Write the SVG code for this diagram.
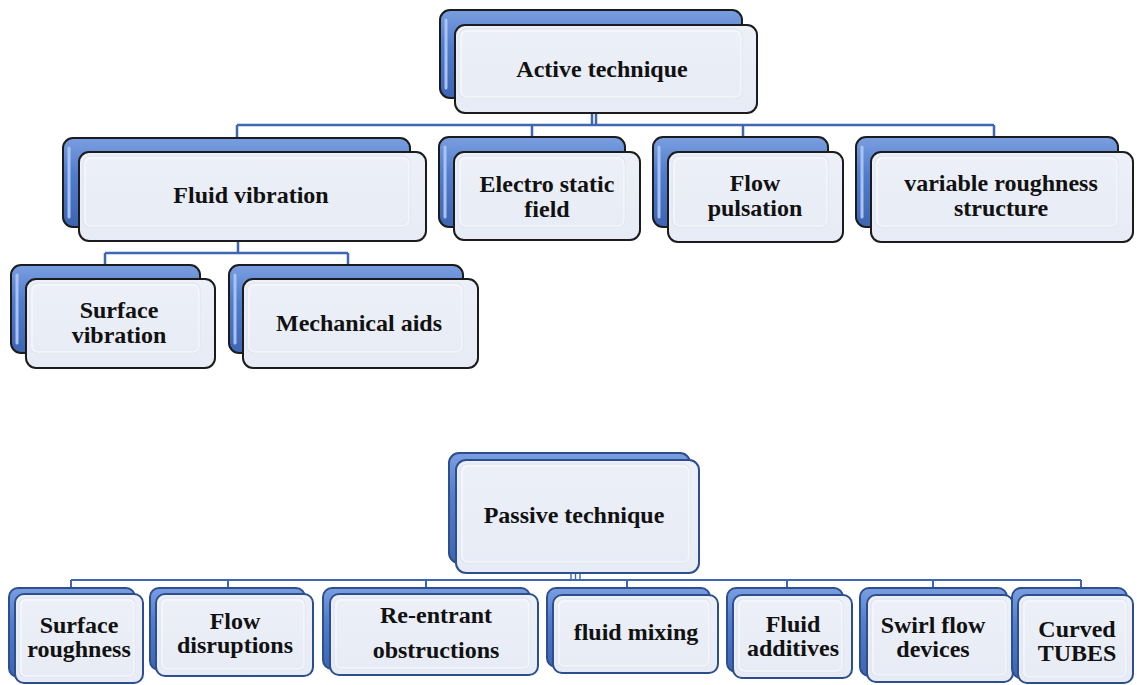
<svg xmlns="http://www.w3.org/2000/svg" width="1137" height="685" viewBox="0 0 1137 685">
<defs>
<linearGradient id="gBlue" x1="0" y1="0" x2="0" y2="1">
<stop offset="0" stop-color="#7A9EE0"/>
<stop offset="0.4" stop-color="#527DCD"/>
<stop offset="1" stop-color="#3D65B3"/>
</linearGradient>
<linearGradient id="gFront" x1="0" y1="0" x2="0" y2="1">
<stop offset="0" stop-color="#EDF0F8"/>
<stop offset="1" stop-color="#E7EBF5"/>
</linearGradient>
<style>
.back{fill:url(#gBlue);stroke:#1c1c1c;stroke-width:2}
.front{fill:url(#gFront);stroke:#1c1c1c;stroke-width:2}
.p .back,.p .front{stroke:#2D4F8E}
.hl{stroke:#A9C3F1;stroke-width:3;fill:none;stroke-linecap:round}
.bev{fill:none;stroke:#FFFFFF;stroke-width:1.5;opacity:.55}
.bev2{fill:none;stroke:#DDE3EF;stroke-width:1}
.lbl{font-family:"Liberation Serif","Times New Roman",serif;font-weight:bold;font-size:24px;fill:#111111;text-anchor:middle}
.conn{stroke:#3F67B1;stroke-width:2.5;fill:none}
.conn2{stroke:#3F67B1;stroke-width:2;fill:none}
.thin{stroke:#3F67B1;stroke-width:1.4;fill:none}
</style>
</defs>
<rect width="1137" height="685" fill="#ffffff"/>

<g id="connectors">
<path class="conn" d="M592 113V125M596 113V125M237 125H994M237 125V138M532 125V137M743 125V137M994 125V137"/>
<path class="conn" d="M238 241V253M105 253H348M105 253V265M348 253V265"/>
<path class="conn2" d="M71 580H1081M71 580V588M228 580V588M426 580V588M627 580V588M787 580V588M933 580V588M1081 580V588"/>
<path class="thin" d="M571 573V580M575.5 573V580M580 573V580"/>
</g>

<g id="active">
<rect class="back" x="440" y="10" width="302" height="88" rx="10"/>
<path class="hl" d="M446 20V88"/>
<rect class="front" x="455" y="25" width="302" height="88" rx="10"/>
<rect class="bev2" x="459" y="29" width="283" height="69" rx="7"/>
<rect class="bev" x="461" y="31" width="280" height="66" rx="6"/>
<text class="lbl" x="602" y="77">Active technique</text>
</g>

<g id="fluid-vibration">
<rect class="back" x="63" y="138" width="347" height="89" rx="10"/>
<path class="hl" d="M69 148V217"/>
<rect class="front" x="79" y="152" width="347" height="89" rx="10"/>
<rect class="bev2" x="83" y="156" width="327" height="71" rx="7"/>
<rect class="bev" x="85" y="158" width="324" height="68" rx="6"/>
<text class="lbl" x="251" y="203">Fluid vibration</text>
</g>

<g id="electro-static-field">
<rect class="back" x="439" y="137" width="186" height="90" rx="10"/>
<path class="hl" d="M445 147V217"/>
<rect class="front" x="454" y="152" width="186" height="88" rx="10"/>
<rect class="bev2" x="458" y="156" width="167" height="71" rx="7"/>
<rect class="bev" x="460" y="158" width="164" height="68" rx="6"/>
<text class="lbl" x="547" y="192">Electro static</text>
<text class="lbl" x="547" y="217">field</text>
</g>

<g id="flow-pulsation">
<rect class="back" x="653" y="137" width="175" height="90" rx="10"/>
<path class="hl" d="M659 147V217"/>
<rect class="front" x="668" y="152" width="175" height="90" rx="10"/>
<rect class="bev2" x="672" y="156" width="156" height="71" rx="7"/>
<rect class="bev" x="674" y="158" width="153" height="68" rx="6"/>
<text class="lbl" x="755" y="191">Flow</text>
<text class="lbl" x="755" y="216">pulsation</text>
</g>

<g id="variable-roughness-structure">
<rect class="back" x="856" y="137" width="262" height="90" rx="10"/>
<path class="hl" d="M862 147V217"/>
<rect class="front" x="871" y="152" width="262" height="90" rx="10"/>
<rect class="bev2" x="875" y="156" width="243" height="71" rx="7"/>
<rect class="bev" x="877" y="158" width="240" height="68" rx="6"/>
<text class="lbl" x="1001" y="191">variable roughness</text>
<text class="lbl" x="1001" y="216">structure</text>
</g>

<g id="surface-vibration">
<rect class="back" x="11" y="265" width="189" height="88" rx="10"/>
<path class="hl" d="M17 275V343"/>
<rect class="front" x="26" y="279" width="189" height="89" rx="10"/>
<rect class="bev2" x="30" y="283" width="170" height="70" rx="7"/>
<rect class="bev" x="32" y="285" width="167" height="67" rx="6"/>
<text class="lbl" x="119" y="318">Surface</text>
<text class="lbl" x="119" y="343">vibration</text>
</g>

<g id="mechanical-aids">
<rect class="back" x="229" y="265" width="234" height="88" rx="10"/>
<path class="hl" d="M235 275V343"/>
<rect class="front" x="243" y="279" width="235" height="89" rx="10"/>
<rect class="bev2" x="247" y="283" width="216" height="70" rx="7"/>
<rect class="bev" x="249" y="285" width="213" height="67" rx="6"/>
<text class="lbl" x="359" y="331">Mechanical aids</text>
</g>

<g id="passive" class="p">
<rect class="back" x="449" y="453" width="241" height="110" rx="10"/>
<rect class="front" x="456" y="460" width="243" height="113" rx="10"/>
<rect class="bev2" x="460" y="464" width="230" height="99" rx="7"/>
<rect class="bev" x="462" y="466" width="227" height="96" rx="6"/>
<text class="lbl" x="574" y="523">Passive technique</text>
</g>

<g id="surface-roughness" class="p">
<rect class="back" x="9" y="588" width="126" height="89" rx="9"/>
<rect class="front" x="15" y="594" width="128" height="89" rx="9"/>
<rect class="bev2" x="19" y="598" width="116" height="79" rx="6"/>
<rect class="bev" x="21" y="600" width="113" height="76" rx="5"/>
<text class="lbl" x="79" y="633">Surface</text>
<text class="lbl" x="79" y="657">roughness</text>
</g>

<g id="flow-disruptions" class="p">
<rect class="back" x="150" y="588" width="155" height="82" rx="9"/>
<rect class="front" x="156" y="594" width="157" height="82" rx="9"/>
<rect class="bev2" x="160" y="598" width="145" height="72" rx="6"/>
<rect class="bev" x="162" y="600" width="142" height="69" rx="5"/>
<text class="lbl" x="235" y="629">Flow</text>
<text class="lbl" x="235" y="653">disruptions</text>
</g>

<g id="re-entrant-obstructions" class="p">
<rect class="back" x="323" y="588" width="207" height="81" rx="9"/>
<rect class="front" x="330" y="594" width="208" height="81" rx="9"/>
<rect class="bev2" x="334" y="598" width="196" height="71" rx="6"/>
<rect class="bev" x="336" y="600" width="193" height="68" rx="5"/>
<text class="lbl" x="436" y="623">Re-entrant</text>
<text class="lbl" x="436" y="658">obstructions</text>
</g>

<g id="fluid-mixing" class="p">
<rect class="back" x="547" y="588" width="163" height="79" rx="9"/>
<rect class="front" x="553" y="595" width="165" height="78" rx="9"/>
<rect class="bev2" x="557" y="599" width="153" height="68" rx="6"/>
<rect class="bev" x="559" y="601" width="150" height="65" rx="5"/>
<text class="lbl" x="636" y="640">fluid mixing</text>
</g>

<g id="fluid-additives" class="p">
<rect class="back" x="727" y="588" width="116" height="84" rx="9"/>
<rect class="front" x="733" y="595" width="119" height="83" rx="9"/>
<rect class="bev2" x="737" y="599" width="106" height="73" rx="6"/>
<rect class="bev" x="739" y="601" width="103" height="70" rx="5"/>
<text class="lbl" x="793" y="632">Fluid</text>
<text class="lbl" x="793" y="656">additives</text>
</g>

<g id="swirl-flow-devices" class="p">
<rect class="back" x="860" y="588" width="147" height="88" rx="9"/>
<rect class="front" x="867" y="595" width="146" height="87" rx="9"/>
<rect class="bev2" x="871" y="599" width="136" height="77" rx="6"/>
<rect class="bev" x="873" y="601" width="133" height="74" rx="5"/>
<text class="lbl" x="933" y="633">Swirl flow</text>
<text class="lbl" x="933" y="657">devices</text>
</g>

<g id="curved-tubes" class="p">
<rect class="back" x="1012" y="588" width="115" height="90" rx="9"/>
<rect class="front" x="1018" y="595" width="115" height="88" rx="9"/>
<rect class="bev2" x="1022" y="599" width="105" height="79" rx="6"/>
<rect class="bev" x="1024" y="601" width="102" height="76" rx="5"/>
<text class="lbl" x="1077" y="637">Curved</text>
<text class="lbl" x="1077" y="661">TUBES</text>
</g>
</svg>
